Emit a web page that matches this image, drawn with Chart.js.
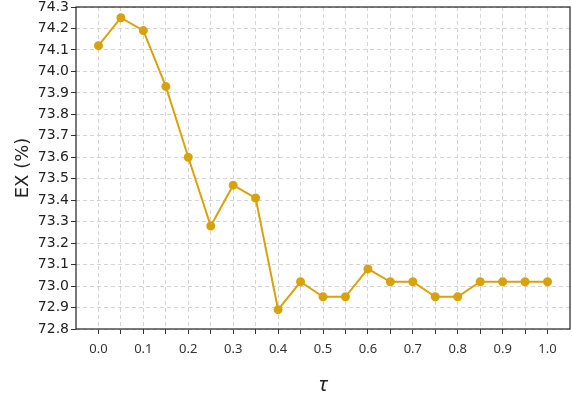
<!DOCTYPE html>
<html>
<head>
<meta charset="utf-8">
<script src="https://cdn.jsdelivr.net/npm/chart.js@4/dist/chart.umd.min.js"></script>
<style>
  html, body { margin: 0; padding: 0; background: #fff; }
  #wrap { width: 572px; height: 396px; }
</style>
</head>
<body>
<div id="wrap"><canvas id="chart"></canvas></div>
<script>
// valeurs
const tauValues = [0.0, 0.05, 0.1, 0.15, 0.2, 0.25, 0.3, 0.35, 0.4, 0.45, 0.5,
                   0.55, 0.6, 0.65, 0.7, 0.75, 0.8, 0.85, 0.9, 0.95, 1.0];
const exValues = [74.12, 74.25, 74.19, 73.93, 73.60, 73.28, 73.47, 73.41, 72.89, 73.02, 72.95,
                  72.95, 73.08, 73.02, 73.02, 72.95, 72.95, 73.02, 73.02, 73.02, 73.02];
const xTickLabels = ['0.0', '0.1', '0.2', '0.3', '0.4', '0.5', '0.6', '0.7', '0.8', '0.9', '1.0'];
const yTickLabels = ['72.8', '72.9', '73.0', '73.1', '73.2', '73.3', '73.4', '73.5',
                     '73.6', '73.7', '73.8', '73.9', '74.0', '74.1', '74.2', '74.3'];

const lineColor = '#d9a20c';

// cadre noir autour de la zone du graphe
const framePlugin = {
  id: 'frame',
  afterDraw(chart) {
    const { ctx, chartArea: a } = chart;
    ctx.save();
    ctx.strokeStyle = '#222';
    ctx.lineWidth = 1.2;
    ctx.strokeRect(a.left, a.top, a.right - a.left, a.bottom - a.top);
    ctx.restore();
  }
};

new Chart(document.getElementById('chart'), {
  type: 'line',
  data: {
    datasets: [{
      data: tauValues.map((t, i) => ({ x: t, y: exValues[i] })),
      borderColor: lineColor,
      backgroundColor: lineColor,
      borderWidth: 2,
      pointRadius: 3.5,
      pointHoverRadius: 3.5,
      tension: 0
    }]
  },
  options: {
    responsive: true,
    maintainAspectRatio: false,
    animation: false,
    layout: { autoPadding: false, padding: { top: 7, right: 2, left: 0, bottom: 0 } },
    plugins: { legend: { display: false }, tooltip: { enabled: false } },
    scales: {
      x: {
        type: 'linear',
        min: -0.05,
        max: 1.05,
        afterBuildTicks(scale) {
          const ticks = [];
          for (let i = 0; i <= 20; i++) ticks.push({ value: i * 0.05 });
          scale.ticks = ticks;
        },
        afterFit(scale) {
          scale.height = 67;
          scale.paddingLeft = 0;
          scale.paddingRight = 0;
        },
        ticks: {
          color: '#333',
          font: { family: 'Noto Sans', size: 13 },
          padding: 7,
          maxRotation: 0,
          autoSkip: false,
          callback(value, index) {
            return index % 2 === 0 ? xTickLabels[index / 2] : '';
          }
        },
        grid: { color: '#d4d4d4', lineWidth: 1, tickLength: 5, tickColor: '#333', tickWidth: 1 },
        border: { display: false, dash: [4, 3] },
        title: {
          display: true,
          text: 'τ',
          color: '#222',
          font: { family: 'Noto Sans', size: 20, style: 'italic' },
          padding: { top: 16, bottom: -1.5 }
        }
      },
      y: {
        min: 72.8,
        max: 74.3,
        afterBuildTicks(scale) {
          scale.ticks = yTickLabels.map(v => ({ value: parseFloat(v) }));
        },
        afterFit(scale) {
          scale.width = 76;
          scale.paddingTop = 0;
          scale.paddingBottom = 0;
        },
        ticks: {
          color: '#222',
          font: { family: 'DejaVu Sans', size: 14 },
          padding: 2,
          autoSkip: false,
          callback(value, index) { return yTickLabels[index]; }
        },
        grid: { color: '#d4d4d4', lineWidth: 1, tickLength: 5, tickColor: '#333', tickWidth: 1 },
        border: { display: false, dash: [4, 3] },
        title: {
          display: true,
          text: 'EX (%)',
          color: '#222',
          font: { family: 'DejaVu Sans', size: 18 },
          padding: { top: 13, bottom: 0 }
        }
      }
    }
  },
  plugins: [framePlugin]
});
</script>
</body>
</html>
